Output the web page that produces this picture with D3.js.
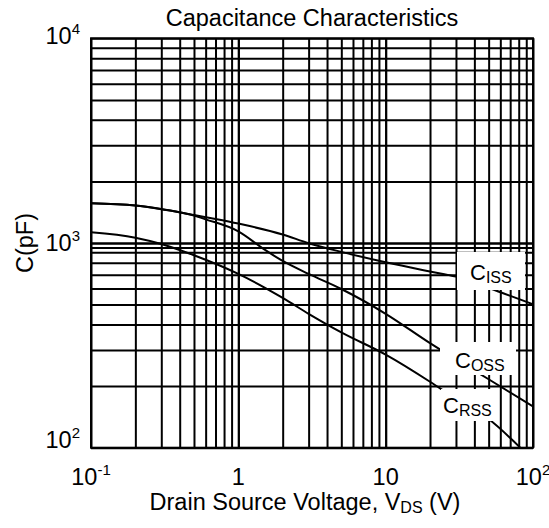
<!DOCTYPE html>
<html>
<head>
<meta charset="utf-8">
<script src="https://cdn.jsdelivr.net/npm/d3@7"></script>
<style>
  body { margin: 0; background: #fff; }
  text { font-family: "Liberation Sans", Arial, sans-serif; fill: #000; }
</style>
</head>
<body>
<div id="chart"></div>
<script>
const width = 549;
const height = 528;

// data
const cissV = [0.1, 0.2, 0.3, 0.5, 0.7, 1, 2, 3, 5, 10, 20, 30, 50, 100];
const ciss  = [1563, 1525, 1466, 1370, 1310, 1244, 1100, 998, 905, 805, 726, 685, 603, 502];
const cossV = [0.1, 0.2, 0.3, 0.5, 0.6, 1, 1.5, 2, 3, 5, 10, 20, 30, 50, 100];
const coss  = [1563, 1525, 1462, 1362, 1305, 1140, 930, 817, 706, 596, 451, 324, 270, 216, 159];
const crssV = [0.1, 0.2, 0.3, 0.5, 1, 2, 3, 5, 10, 20, 30, 50, 82];
const crss  = [1128, 1062, 989, 871, 706, 539, 451, 366, 285, 210, 173, 138, 100];

const xTicks = [0.1, 1, 10, 100];
const xTickBase = ["10", "1", "10", "10"];
const xTickExp = ["-1", "", "", "2"];
const yTicks = [100, 1000, 10000];
const yTickExp = ["2", "3", "4"];
const yGridExtra = [950];

const margin = { top: 38.3, left: 91, right: 16, bottom: 80.3 };
const w = width - margin.left - margin.right;
const h = height - margin.top - margin.bottom;

const svg = d3.select("#chart").append("svg")
  .attr("width", width)
  .attr("height", height);

const x = d3.scaleLog().domain([0.1, 100]).range([0, w]);
const y = d3.scaleLog().domain([100, 10000]).range([h, 0]);

const g = svg.append("g").attr("transform", `translate(${margin.left},${margin.top})`);

// grid lines
const xGrid = [];
[0.1, 1, 10].forEach(d => { for (let k = 1; k <= 10; k++) xGrid.push(d * k); });
const yGrid = [];
[100, 1000].forEach(d => { for (let k = 1; k <= 10; k++) yGrid.push(d * k); });

g.append("g")
  .attr("class", "xgrid")
  .call(d3.axisBottom(x).tickValues(xGrid).tickSize(-h).tickFormat(""))
  .attr("transform", `translate(0,${h})`)
  .call(s => s.select(".domain").remove());

g.append("g")
  .attr("class", "ygrid")
  .call(d3.axisLeft(y).tickValues(yGrid.concat(yGridExtra)).tickSize(-w).tickFormat(""))
  .call(s => s.select(".domain").remove());

g.selectAll(".xgrid line, .ygrid line")
  .attr("stroke", "#000")
  .attr("stroke-width", 2);

// curves
g.append("clipPath").attr("id", "clip")
  .append("rect").attr("width", w).attr("height", h);

const line = d3.line()
  .x(d => x(d[0]))
  .y(d => y(d[1]))
  .curve(d3.curveMonotoneX);

const series = [
  d3.zip(cissV, ciss),
  d3.zip(cossV, coss),
  d3.zip(crssV, crss)
];

g.append("g").attr("clip-path", "url(#clip)")
  .selectAll("path")
  .data(series)
  .enter()
  .append("path")
  .attr("fill", "none")
  .attr("stroke", "#000")
  .attr("stroke-width", 2)
  .attr("d", line);

// labels on white boxes
const boxes = [
  { x: 457, y: 252, w: 68, h: 38, cx: 470, cy: 280, sub: "ISS" },
  { x: 440, y: 342, w: 76, h: 33, cx: 455, cy: 368, sub: "OSS" },
  { x: 441, y: 389, w: 55, h: 32, cx: 443, cy: 413, sub: "RSS" }
];
boxes.forEach(b => {
  svg.append("rect")
    .attr("x", b.x).attr("y", b.y)
    .attr("width", b.w).attr("height", b.h)
    .attr("fill", "#fff");
  const t = svg.append("text")
    .attr("x", b.cx).attr("y", b.cy)
    .attr("font-size", 22);
  t.append("tspan").text("C");
  t.append("tspan").attr("font-size", 16).attr("dy", 3).text(b.sub);
});

// border
g.append("rect")
  .attr("width", w).attr("height", h)
  .attr("fill", "none")
  .attr("stroke", "#000")
  .attr("stroke-width", 2);

// y tick labels
const yDy = [-8, 0, -2];
yTicks.forEach((v, i) => {
  const t = svg.append("text")
    .attr("x", margin.left - 11)
    .attr("y", margin.top + y(v) + 8 + yDy[i])
    .attr("text-anchor", "end")
    .attr("font-size", 23.5);
  t.append("tspan").text("10");
  t.append("tspan").attr("font-size", 15).attr("dy", -10).text(yTickExp[i]);
});

// x tick labels
xTicks.forEach((v, i) => {
  const t = svg.append("text")
    .attr("x", margin.left + x(v))
    .attr("y", 485)
    .attr("text-anchor", "middle")
    .attr("font-size", 23.5);
  t.append("tspan").text(xTickBase[i]);
  if (xTickExp[i]) t.append("tspan").attr("font-size", 15).attr("dy", -10).text(xTickExp[i]);
});

// title
svg.append("text")
  .attr("x", margin.left + w / 2)
  .attr("y", 26)
  .attr("text-anchor", "middle")
  .attr("font-size", 23.5)
  .text("Capacitance Characteristics");

// axis titles
const xl = svg.append("text")
  .attr("x", 305)
  .attr("y", 510)
  .attr("text-anchor", "middle")
  .attr("font-size", 23.5);
xl.append("tspan").text("Drain Source Voltage, V");
xl.append("tspan").attr("font-size", 16).attr("dy", 3).text("DS");
xl.append("tspan").attr("dy", -3).text(" (V)");

svg.append("text")
  .attr("transform", "translate(33,243) rotate(-90)")
  .attr("text-anchor", "middle")
  .attr("font-size", 23.5)
  .text("C(pF)");
</script>
</body>
</html>
